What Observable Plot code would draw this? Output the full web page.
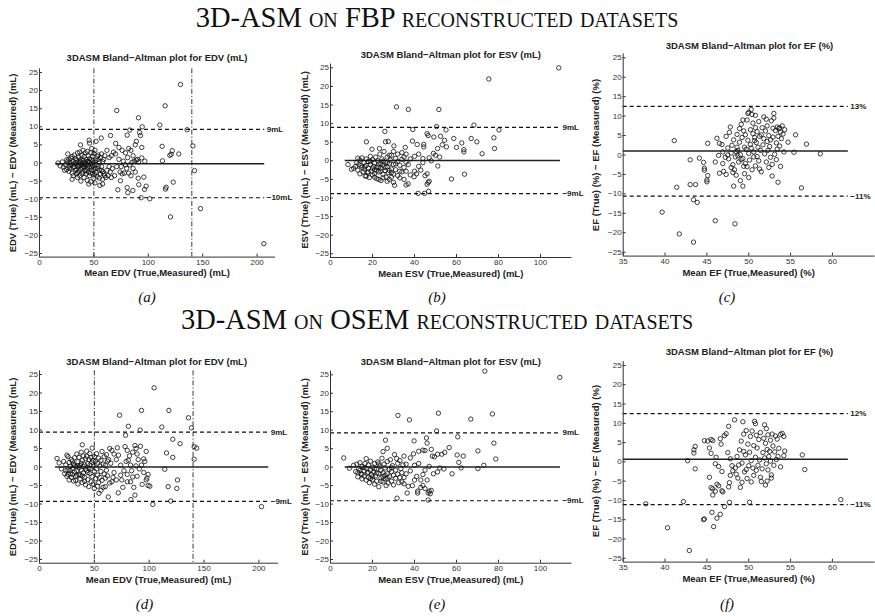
<!DOCTYPE html>
<html><head><meta charset="utf-8">
<script src="https://cdn.jsdelivr.net/npm/d3@7"></script>
<script src="https://cdn.jsdelivr.net/npm/@observablehq/plot@0.6"></script>
<style>
body{margin:0;background:#fff}
#page{position:relative;width:875px;height:616px;overflow:hidden;background:#fff}
#page svg{position:absolute;left:0;top:0}
.t{position:absolute;white-space:nowrap;transform:translate(-50%,-50%);line-height:1}
.t.yl{transform:translate(-50%,-50%) rotate(-90deg)}
.big{font-family:"Liberation Serif",serif;font-variant:small-caps;font-size:28.5px;color:#111;line-height:0.85}
.sub{font-family:"Liberation Sans",Arial,sans-serif;font-weight:bold;font-size:9.5px;color:#222}
.cap{font-family:"Liberation Serif",serif;font-style:italic;font-size:15px;color:#111;line-height:0.9}
</style></head><body><div id="page"></div>
<script>
// ---------- data (mean, difference) ----------
const fbpEDV = [[129.6,21.7],[115.5,15.8],[71,14.5],[91,12.5],[110.6,10.5],[94.4,10],[83,9.1],[135.7,9.2],[92,8.4],[92.8,7.6],[80.6,7.7],[65.3,7.6],[56.7,6.9],[45.6,6.3],[46,5.5],[37.7,5],[52,6],[89,6],[112.7,4.6],[141,4.7],[88,5],[94,4.3],[70,5.4],[73,4.3],[122,3.4],[128,2.5],[119.8,2.1],[121,2.4],[113,0.6],[94,1.4],[96.8,0.5],[142.5,-2.1],[95.9,-3.9],[90.7,-4.2],[91.3,-6],[98,-6.4],[96.5,-7.3],[122.9,-5.3],[116.4,-6.7],[115.8,-7.2],[74.4,-4.9],[72,-7.4],[80.6,-6.8],[81.2,-8.2],[85.8,-7.6],[93.4,-9.6],[101.4,-9.9],[120.4,-14.9],[148,-12.6],[206.2,-22.3],[55.5,-6.2],[58,-5.8],[45.3,-5.8],
[76,3.5],[79,2.8],[82,4],[84,3.5],[86,2],[87,0.5],[89,0.8],[90,1],[91,0.3],[85,0.2],[83,-0.5],[80,-1.5],[78,-2.8],[76,-3],[74,-2.5],[82,-2.8],[84,-3.5],[86,-1.5],[88,-2.5],[70,2.5],[68,3],[66,2],[64,1.5],[62,3.5],[60,2],[67,-1.5],[65,-2.5],[63,-3.5],[61,-4],[59,-3],[57,-2],[69,-3.5],[71,-1],[73,1],[77,0.5],[79,-0.5],[81,1.5],[75,-1],[66,-4],[62,-2],[64,-1],[58,-4.5],[60,-3.5],
[17,0],[19,-0.8],[21,0.3],[22,-1.2],[24,-0.5],[25,-1.8],[26,2.5],[26,0.5],[27,-2.3],[27,1],[28,0.2],[28,-1.5],[29,-0.7],[30,1.8],[30,-2.8],[30,-4.5],[31,0.5],[31,-1.2],[32,2.2],[32,-0.3],[33,-2],[33,1.2],[34,-3],[34,0.8],[35,2.8],[35,-1],[35,-4],[36,1.5],[36,-2.2],[36,0],[37,-3.5],[37,3],[37,-0.8],[38,-5],[38,1],[38,-1.8],[39,2.2],[39,-0.4],[39,-3],[40,0.8],[40,-2.5],[40,3.5],[41,-1],[41,1.8],[41,-4],[42,0.3],[42,-2],[42,2.8],[43,-3],[43,1],[43,-0.6],[44,3.2],[44,-1.5],[44,-4.8],[45,0.5],[45,-2.5],[45,2],[46,-1],[46,-3.5],[46,1.2],[47,-0.2],[47,-5.2],[47,2.8],[48,-2],[48,0.9],[48,4],[49,-3],[49,-0.5],[49,1.8],[50,-4.2],[50,0.2],[50,2.6],[51,-1.4],[51,-5.5],[51,3.5],[52,0.6],[52,-2.6],[53,1.8],[53,-3.8],[54,-0.9],[54,2.2],[55,-2],[55,0.3],[56,1.5],[56,-3],[57,-1],[57,2.5],[58,0.4],[58,-2.4],[59,1],[28,-0.3],[32,-1],[34,-1.8],[36,-0.5],[38,0.2],[40,-0.9],[42,-0.2],[44,0.4],[46,0.1],[48,-1.2],[50,-1.8],[52,-0.5],[54,1],[33,0.1],[37,0.6],[41,-0.4],[45,-0.8],[49,0.5],[53,-1.5],[35,-2.6],[39,-1.2],[43,-2.2],[47,-2.8],[51,-3.2],[55,-4.2],[31,-3.5],[29,1.3],[27,-0.9],[25,0.9],[23,-2]];

const fbpESV = [[108.7,25],[75.4,22],[31.4,14.5],[37.1,13.8],[51.6,13.8],[68.3,9.6],[50.5,9.2],[80.2,8.3],[39.2,8.4],[25.9,7.9],[46,7.3],[46.5,6.8],[49.2,6.4],[52.4,6.6],[54.3,5.5],[55,8.3],[58.7,6],[62.5,4.8],[67,6],[69.7,5.1],[77.8,6.2],[78.1,3.3],[72.2,1.9],[60,3.6],[63.5,3],[63.5,2.4],[53.2,4.3],[55.2,3.75],[51,3.3],[52,1],[51.1,-1.4],[57.6,-4.9],[63.8,-3.6],[39,5.3],[35.6,3.6],[44.4,4.4],[44.4,3.75],[41.3,4.4],[30.2,4],[26.2,5.1],[27.5,5.2],[17.1,5.1],[19.8,3.1],[23.3,3.3],[41.7,-8.75],[44.8,-8.75],[46.7,-8.2],[46,-6.3],[46.5,-5.8],[47,-5.5],[36,-6.5],[37,-6.2],[30.5,-6.6],[39.8,-4.3],[8.3,-1],[10,-2.3],[49,2],[50,1.5],[48,0],[46,-3.5],[45,-4],[43,-2.5],[42,-1.5],[44,-0.5],[47,0.8],[40,1.2],[38,0.5],[40,-2.8],[41,-3.5],[37,-1],[36,1.8],[34,2.2],[33,-2.8],[32,-4],[30,2.5],[31,-0.8],[29,-3.2],[28,1.5],[38,-3.8],[35,-5],[42,1.8],[44,0.6],
[12,-1.5],[12.5,-0.5],[13,-2.5],[13.5,-1],[14,-3.5],[14,0.2],[15,-1.8],[15,0.8],[15.5,-3],[16,-0.5],[16,-2.2],[16.5,-4],[17,0.5],[17,-1.2],[17.5,-3.2],[18,-0.2],[18,-2],[18.5,-4.5],[19,1.2],[19,-1],[19.5,-2.8],[20,0.3],[20,-3.8],[20.5,-1.5],[21,-0.6],[21,-2.4],[21.5,1],[22,-4.8],[22,-1.8],[22.5,0],[23,-3],[23,-0.9],[23.5,1.8],[24,-2],[24,-5.3],[24.5,0.5],[25,-1.2],[25,-3.6],[25.5,2.5],[26,-0.4],[26,-2.6],[26.5,-4.4],[27,1],[27,-1.6],[27.5,-3.2],[28,-0.8],[28,-5],[28.5,0.2],[29,-2.2],[29,1.5],[30,-1],[30,-3.6],[31,0.6],[31,-2.4],[32,-0.2],[32,1.8],[33,-1.2],[34,-3],[34,0.4],[35,-1.8],[35,1],[36,-2.8],[36,-0.4],[18,-3],[20,-2],[22,-2.6],[24,-0.8],[26,-1.8],[28,-2.6],[19,-0.2],[21,-3.4],[23,-1.6],[25,-0.1],[27,-0.5],[14.5,-1.3],[16.5,-1.6],[13,0.7],[11,-2],[17,-4.2],[21,-4.4],[23,-5],[25,-4.6],[29,-4.4],[33,-4.6],[27,-5.5],[30,-5.8],[24,-2.8]];

const fbpEF = [[39.65,-14.7],[41.7,-20.3],[43.4,-22.4],[41.1,3.7],[41.4,-8.3],[43,-1.25],[43,-7.6],[43.65,-7.6],[43.4,-11.5],[43.85,-12.2],[44.1,-0.8],[44.6,-1.9],[44.7,-3.4],[44.7,-3.9],[45.1,-5.3],[45,-6.4],[45,-6.9],[45.1,3],[46,-16.9],[48.35,-17.7],[56.3,-8.45],[56.9,2.8],[58.55,0.3],[55.6,5.2],[55.4,0.7],[54.7,3.3],[53.8,-2.95],[53.5,-7],[52.8,-5.4],[49.3,-8],[48.2,-8],[49,-6.6],
[46.2,4.3],[46.5,3],[46.8,2.7],[46.4,-0.1],[46,-1.8],[46.9,-2.2],[46.5,-4.7],[47,-4.2],[47.3,-5],[47.3,4.8],[47.8,7.2],[47.7,5.8],[48,2.5],[47.6,-1],[47.9,0.5],[48.1,-2.5],[48.3,-3.8],[48.1,-4.5],[48.5,-5.2],[48.4,-0.5],[48.7,1.2],[48.8,-1.8],[49,0.1],[49.3,9],[49.8,9],[48.9,3.3],[49.2,4.5],[49.4,6.2],[49.6,5.2],[49.5,2],[49.7,1.5],[49.3,-0.9],[49.6,-2.2],[49.8,-3],[49.5,-4.8],[50,-5.8],[50.3,11.7],[50,11],[50.4,10.4],[50.8,10.2],[49.9,10.7],[50.5,8.2],[50.8,7],[51,6],[50.7,4.5],[50.9,3.2],[51.1,2],[50.6,0.8],[51,-0.4],[51.2,-1.5],[50.8,-2.8],[51.3,-3.6],[51.5,-4.3],[50.4,-3.8],[51.8,9.8],[52.1,9.2],[53,10.7],[53,9.5],[52.7,8.8],[52.2,7.5],[51.6,7],[52,6.2],[52.4,5],[51.8,4.2],[52.2,3.5],[51.7,2.6],[52.5,2.2],[52.3,1.2],[51.9,0.3],[52.6,-0.6],[52.1,-1.8],[52.8,-2.4],[52.4,-3.2],[53.4,7.2],[53.2,6.3],[53.6,6.8],[53.8,5.9],[53.5,4.8],[53.9,4.2],[53.3,3.1],[53.7,2.3],[54,7.5],[54.3,6.5],[54.1,5.4],[53.4,1.5],[53.1,0.2],[53.3,-1.2],[54.2,0.8],[50.2,6.5],[50.5,5.5],[49.9,3.8],[50.2,2.7],[50.3,1.8],[50,0.4],[49.1,-1.2],[48.6,2],[49.4,-2.9],[50.1,-1.3],[50.6,-0.5],[51.4,1.2],[51.5,5.2],[52.9,4.6],[52.6,3.9],[47.5,0],[47.9,-3.2],[48.5,0.9],[48.2,3.9],[48.6,5.3],[48.9,6.8],[49.1,7.9],[51.2,8.6],[52.9,6.9],[53.7,7],[50.7,3.7],[51.3,4.8],[48.7,-0.2],[47.2,-0.6],[46.9,0.8],[47.5,1.8]];

const osemEDV = [[104.5,21.4],[93,15.3],[118,15.3],[73,14],[135.8,13.3],[111.5,10.8],[138.5,10.6],[81,11],[91.8,10],[78.5,8.6],[121.5,7.5],[128.2,6.3],[141,5.5],[143.3,5.1],[141,2.1],[121.5,2.6],[115.8,3.8],[114.2,-0.6],[125.8,-3.5],[125.2,-5.8],[117.3,-5.3],[119.7,-9.2],[103.3,-10.1],[202.4,-10.7],[83.3,-8.8],[87,-7.6],[71.8,-7],[62.7,-8.1],[54.2,-7.1],[97.3,-3.5],[99,-2],[100.6,-5.2],[93.6,-4.7],[97.3,4.2],[92,5.6],[87,5.8],[88,5],[95,2.2],[96,1.5],[79,1.5],[83,0.5],[89,-2.5],[16,2.3],[17.9,1.1],
[64,5],[66,4.5],[68,3.5],[70,2],[74,0.5],[77,-1],[80,-2],[85,-2.7],[75,-3.5],[76,-5.5],[80,-4],[83,-4],[86,-5.5],[78,5.5],[80,4.5],[82,3],[85,4],[89,3.5],[90,2],[91,-0.5],[93,0.5],[95,-1.5],[98,-3],[99,-5],[68,-1.5],[70,-3.5],[66,-4],[64,-4.3],[60,-5.3],[58,-5.5],[56,-6.3],[63,2],[65,1],[72,3.2],[74,-2.2],[81,1.8],[84,-1],[88,0.3],[71,5.2],[67,-2.8],
[20,-0.5],[22,1.5],[23,-1.8],[24,0.6],[25,3.2],[25,-2.5],[26,2.8],[26,-0.8],[27,1.2],[27,-3.5],[28,0.2],[28,-1.8],[29,2],[29,-2.8],[30,-0.4],[30,1.6],[31,-3.8],[31,0.8],[32,2.5],[32,-1.4],[33,-2.6],[33,0.1],[34,3.5],[34,-1],[35,-4.6],[35,1.4],[36,-2],[36,2.6],[37,0.4],[37,-3.2],[38,4],[38,-0.8],[39,6],[39,1.8],[39,-4.2],[40,-1.6],[40,3],[41,0.6],[41,-2.8],[42,2.2],[42,-4.8],[43,-1],[43,4.3],[44,0.9],[44,-3.4],[45,-5.3],[45,2],[46,-1.8],[46,3.6],[47,-0.4],[47,-4],[48,5.1],[48,1.3],[48,-2.6],[49,-4.6],[49,0.2],[50,2.8],[50,-1.2],[50,-5.8],[51,1.5],[51,-3.2],[52,-0.5],[52,3.6],[53,-2.2],[53,1],[54,-4.2],[54,2.4],[55,0.3],[55,-2.8],[56,1.8],[56,-1.2],[57,-3.6],[57,4.2],[58,0.8],[59,-1.9],[59,2.8],[60,-3],[60,0.5],[61,-0.9],[61,3.3],[62,1.6],[62,-2.4],[36,-0.2],[38,1],[40,0.1],[42,-0.6],[44,-1.5],[46,0.5],[34,-2.2],[32,0.4],[30,-2],[28,-0.9],[24,-1],[26,-2],[33,-3.6],[37,-2.2],[41,-3.8],[45,-0.3],[49,1.8],[53,-5.2],[47,2.6],[43,2.9],[39,-2.4],[35,0.3]];

const osemESV = [[73.5,26],[109.2,24.3],[32.1,14],[37.6,12.8],[51.4,14.6],[66.8,13],[77.1,14.4],[50.5,9.8],[60.6,8.2],[45.7,7.9],[39.8,7.1],[26.2,7.3],[27,5.1],[25,4.2],[30.5,3.4],[31.5,2.3],[77.8,6.5],[70.2,4.4],[78.7,2.2],[73,0.5],[70.2,-0.4],[63.2,3],[60.3,3.3],[61.1,1.3],[62.2,-0.2],[57.9,-1.8],[56.5,5.3],[54.4,4],[53,3.5],[49.5,2.8],[51,3.5],[48,4.8],[44,4.6],[45,4.5],[42,4.3],[39.5,3.6],[51,-1.3],[52,-0.2],[54,-0.5],[46.5,-8.9],[31.7,-8.4],[36.5,-7],[41.5,-7],[41.5,-6.5],[43,-5.5],[44,-5],[45,-5.8],[46,-3.5],[47,-6.5],[47.5,-7.2],[48,-6.3],[46.5,-7],[6.3,2.5],[9,-0.3],[46,6.5],[48.5,3],[42,1],[40,0.5],[38,-1],[41,-2.5],[44,-2],[40,-3.5],[39,-5],[37,-5.2],[35,-2.8],[34,-4],[33,1.8],[36,0.8],[43,-3.5],[45,-0.8],[47,0.2],[49,-1.8],[38,2.5],[35,3],
[11,0.5],[12,-1.2],[12.5,0.8],[13,-2.6],[13.5,-0.4],[14,1.2],[14.5,-1.8],[15,-3.2],[15,0.2],[16,-1],[16,-2.4],[16.5,1],[17,-0.3],[17,-3.5],[17.5,-1.6],[18,0.6],[18,-2.8],[18.5,-4.2],[19,-0.8],[19,1.6],[19.5,-2],[20,0],[20,-3.4],[20.5,-1.3],[21,1],[21,-4.6],[21.5,-2.4],[22,-0.5],[22,-3.8],[22.5,1.4],[23,-1.7],[23,-5.3],[23.5,0.3],[24,-2.9],[24,-0.9],[24.5,2.4],[25,-4],[25,-1.5],[25.5,0.8],[26,-3.2],[26,-0.2],[26.5,-5],[27,-1.8],[27,1.5],[27.5,-4.3],[28,-0.6],[28,-2.6],[28.5,2],[29,-3.8],[29,-1.2],[29.5,0.4],[30,-2.2],[30,-4.8],[31,-0.8],[31,-3],[32,1],[32,-1.9],[32.5,-4.2],[33,-2.8],[33.5,-0.4],[34,-1.5],[34.5,0.6],[35,-4.5],[36,-1.8],[18,-1.4],[20,-2.6],[22,-1.6],[24,-3.8],[26,-2.2],[16,-0.1],[14,-0.9],[21,-0.4],[23,0.9],[19,-3.1],[25,-2.6],[27,-3],[29,-0.1],[17,2.3],[15,-2],[13,-1.5]];

const osemEF = [[37.7,-10.9],[40.3,-17.1],[42.9,-23],[42.2,-10.3],[42.7,0.3],[43.6,4],[43.45,3.1],[43.45,2.3],[43.6,-1.8],[44.6,-15],[44.7,-14.8],[45.6,-13.1],[45.8,-16.8],[46.2,-14.6],[46.6,-13.6],[47.1,-11.6],[47.7,-10.5],[50.1,-10.5],[61,-9.8],[56.4,1.8],[56.7,-2],[54.3,2.8],[54.2,1.6],[53.8,-1.3],[52,-6],[52.2,-5],[52.7,-4.2],[45.5,5.8],[45.7,5.5],[45.1,5.4],[44.7,5.5],[45.3,-4],[45.5,-6.7],[45.7,-7],[45.7,-8.6],[46,-7.6],[46.2,-5.8],[46.4,-6.2],[46.8,-7.5],[46.9,-7.8],[47.7,-5.4],[47.6,-6.5],[47.8,-3.5],[48.1,-2.3],[48,-1],[48.3,10.9],[47.6,9.2],[49.3,10.4],[50.7,10.5],[50.8,9.9],[45.3,3.6],[45.5,2.2],[46.1,1.2],[46,-0.5],[46.4,-1.2],[46.8,-2.5],[46.7,4.6],[47.1,6.8],[47.3,7.3],[46.6,6],[47.8,0.8],[47.5,2.4],[48.4,-1.6],[48.7,-4.2],[49,-6.6],[48.5,-3.2],[49.2,-5.3],
[48.6,1.4],[48.9,3.1],[49.1,5.4],[49.4,7.2],[49.7,8.1],[49.2,-0.3],[49.5,-2.6],[49.8,-4.3],[49.6,1.8],[49.9,4.6],[50.2,6.6],[50.4,8],[50.1,2.5],[50.3,0.3],[50.5,-1.6],[50.6,-3.5],[50.9,-2.2],[50.8,1.2],[51,3.6],[51.2,5.8],[51.4,7.6],[51.1,-0.9],[51.4,-4],[51.7,2.4],[51.8,6.1],[51.9,9.6],[52.1,8.6],[52.3,7],[52,4.8],[52.2,3.2],[52.4,1.4],[52.1,-0.5],[52.3,-2.1],[52.6,5.6],[52.8,7.2],[52.9,4.1],[53.1,2.6],[53.2,6.7],[53.4,5.9],[53.6,3.5],[53.8,7.1],[54,7.4],[53.3,0.6],[53,-0.9],[54.2,6.6],[52.7,-3.4],[51.6,-1.8],[50,-1],[49.7,-2],[51.3,0.5],[50.6,4.2],[51.9,1],[52.5,2.7],[53.5,1.4],[48.8,-0.8],[49.4,2.7],[50.9,6.9],[50.3,-5.2],[51.5,-5.1],[52.6,0.2]];

// bias, upper limit, lower limit
const fbpEDVLimits = [-0.2, 9.3, -9.6];
const fbpESVLimits = [0.05, 9.0, -8.8];
const fbpEFLimits = [1.0, 12.5, -10.6];
const osemEDVLimits = [0, 9.4, -9.3];
const osemESVLimits = [0.05, 9.3, -9.1];
const osemEFLimits = [0.7, 12.5, -11.1];
// limit labels
const fbpEDVLabels = ["9mL", "−10mL"];
const fbpESVLabels = ["9mL", "−9mL"];
const fbpEFLabels = ["13%", "−11%"];
const osemEDVLabels = ["9mL", "−9mL"];
const osemESVLabels = ["9mL", "−9mL"];
const osemEFLabels = ["12%", "−11%"];
// extent of bias line [from, to]
const fbpEDVSpan = [15, 207];
const fbpESVSpan = [7, 109.5];
const fbpEFSpan = [35, 61.9];
const osemEDVSpan = [14.6, 209];
const osemESVSpan = [7, 109.5];
const osemEFSpan = [35, 61.9];

const yTicks = [-25, -20, -15, -10, -5, 0, 5, 10, 15, 20, 25];
const edvTicks = [0, 50, 100, 150, 200];
const esvTicks = [0, 20, 40, 60, 80, 100];
const efTicks = [35, 40, 45, 50, 55, 60];
const edvRefLines = [50, 140];

const rowTitles = ["3D-ASM on FBP reconstructed datasets", "3D-ASM on OSEM reconstructed datasets"];
const captions = ["(a)", "(b)", "(c)", "(d)", "(e)", "(f)"];
const edvTitle = "3DASM Bland−Altman plot for EDV (mL)";
const esvTitle = "3DASM Bland−Altman plot for ESV (mL)";
const efTitle = "3DASM Bland−Altman plot for EF (%)";
const edvYLabel = "EDV (True) (mL) − EDV (Measured) (mL)";
const esvYLabel = "ESV (True) (mL) − ESV (Measured) (mL)";
const efYLabel = "EF (True) (%) − EF (Measured) (%)";
const edvXLabel = "Mean EDV (True,Measured) (mL)";
const esvXLabel = "Mean ESV (True,Measured) (mL)";
const efXLabel = "Mean EF (True,Measured) (%)";

// ---------- layout ----------
const panels = [
  {pts: fbpEDV, lim: fbpEDVLimits, labels: fbpEDVLabels, span: fbpEDVSpan, xDomain: [0, 217], xTicks: edvTicks, vlines: edvRefLines,
   frame: [39, 275.1, 68.4, 256.6], title: edvTitle, titleXY: [157, 58.3], yl: edvYLabel, ylX: 12.7, xl: edvXLabel, xlY: 273.2, cap: captions[0], capXY: [147, 297.5]},
  {pts: fbpESV, lim: fbpESVLimits, labels: fbpESVLabels, span: fbpESVSpan, xDomain: [0, 115], xTicks: esvTicks, vlines: null,
   frame: [330, 571.5, 63.6, 257], title: esvTitle, titleXY: [450.8, 55], yl: esvYLabel, ylX: 305, xl: esvXLabel, xlY: 273.5, cap: captions[1], capXY: [437, 297.5]},
  {pts: fbpEF, lim: fbpEFLimits, labels: fbpEFLabels, span: fbpEFSpan, xDomain: [35, 65.1], xTicks: efTicks, vlines: null,
   frame: [622.7, 874.6, 53.4, 255.6], title: efTitle, titleXY: [749.5, 46], yl: efYLabel, ylX: 596, xl: efXLabel, xlY: 272.5, cap: captions[2], capXY: [727, 297.5]},
  {pts: osemEDV, lim: osemEDVLimits, labels: osemEDVLabels, span: osemEDVSpan, xDomain: [0, 218], xTicks: edvTicks, vlines: edvRefLines,
   frame: [39, 278.1, 370.3, 562.7], title: edvTitle, titleXY: [156.7, 361.7], yl: edvYLabel, ylX: 13.3, xl: edvXLabel, xlY: 579.6, cap: captions[3], capXY: [144.5, 605]},
  {pts: osemESV, lim: osemESVLimits, labels: osemESVLabels, span: osemESVSpan, xDomain: [0, 115], xTicks: esvTicks, vlines: null,
   frame: [330, 571.5, 370.6, 562.7], title: esvTitle, titleXY: [450.8, 361.7], yl: esvYLabel, ylX: 305, xl: esvXLabel, xlY: 579.6, cap: captions[4], capXY: [437, 605]},
  {pts: osemEF, lim: osemEFLimits, labels: osemEFLabels, span: osemEFSpan, xDomain: [35, 65.1], xTicks: efTicks, vlines: null,
   frame: [622.7, 874.6, 361.1, 561.6], title: efTitle, titleXY: [749.5, 351.7], yl: efYLabel, ylX: 596, xl: efXLabel, xlY: 579, cap: captions[5], capXY: [727, 605]}
];

const W = 875, H = 616;
const page = document.getElementById("page");

function panelPlot(p) {
  const [x0, x1, yT, yB] = p.frame;
  const fw = x1 - x0, fh = yB - yT;
  const [bias, up, lo] = p.lim;
  const limits = [
    {y: up, x1: p.xDomain[0], x2: p.span[1], label: p.labels[0]},
    {y: lo, x1: p.xDomain[0], x2: p.span[1], label: p.labels[1]}
  ];
  const biasLine = [{y: bias, x1: p.span[0], x2: p.span[1]}];
  return Plot.plot({
    width: W, height: H,
    marginLeft: x0, marginRight: W - x1, marginTop: yT, marginBottom: H - yB,
    style: {background: "transparent", overflow: "visible", fontFamily: "'Liberation Sans', Arial, sans-serif"},
    x: {domain: p.xDomain},
    y: {domain: [-26, 26]},
    marks: [
      p.vlines ? Plot.ruleX(p.vlines, {stroke: "#222", strokeWidth: 0.9, strokeDasharray: "5,2,1.2,2"}) : null,
      Plot.ruleY(limits, {y: "y", x1: "x1", x2: "x2", stroke: "#111", strokeWidth: 1.2, strokeDasharray: "4,3"}),
      Plot.ruleY(biasLine, {y: "y", x1: "x1", x2: "x2", stroke: "#222", strokeWidth: 1.5}),
      Plot.dot(p.pts, {x: d => d[0], y: d => d[1], r: 2.2, stroke: "#111", strokeWidth: 0.8, fill: "none"}),
      Plot.text(limits, {x: "x2", y: "y", text: "label", textAnchor: "start", dx: 2, fontSize: 8, fontWeight: "bold", fill: "#222"}),
      Plot.ruleX([p.xDomain[0]], {stroke: "#333"}),
      Plot.ruleY([-26], {stroke: "#333"}),
      Plot.tickX(p.xTicks, {x: d => d, insetTop: fh - 3, stroke: "#333"}),
      Plot.tickY(yTicks, {y: d => d, insetRight: fw - 3, stroke: "#333"}),
      Plot.axisX({ticks: p.xTicks, tickSize: 0, tickPadding: 2, fontSize: 8, label: null, color: "#333"}),
      Plot.axisY({ticks: yTicks, tickSize: 0, tickPadding: 1.5, fontSize: 8, label: null, color: "#333"})
    ]
  });
}

function addText(txt, x, y, cls) {
  const d = document.createElement("div");
  d.className = "t " + cls;
  d.textContent = txt;
  d.style.left = x + "px";
  d.style.top = y + "px";
  page.appendChild(d);
}

for (const p of panels) page.appendChild(panelPlot(p));

addText(rowTitles[0], 437, 17.5, "big");
addText(rowTitles[1], 437, 320, "big");
for (const p of panels) {
  const [x0, x1, yT, yB] = p.frame;
  addText(p.title, p.titleXY[0], p.titleXY[1], "sub");
  addText(p.yl, p.ylX, (yT + yB) / 2, "sub yl");
  addText(p.xl, (x0 + x1) / 2, p.xlY, "sub");
  addText(p.cap, p.capXY[0], p.capXY[1], "cap");
}
</script></body></html>
